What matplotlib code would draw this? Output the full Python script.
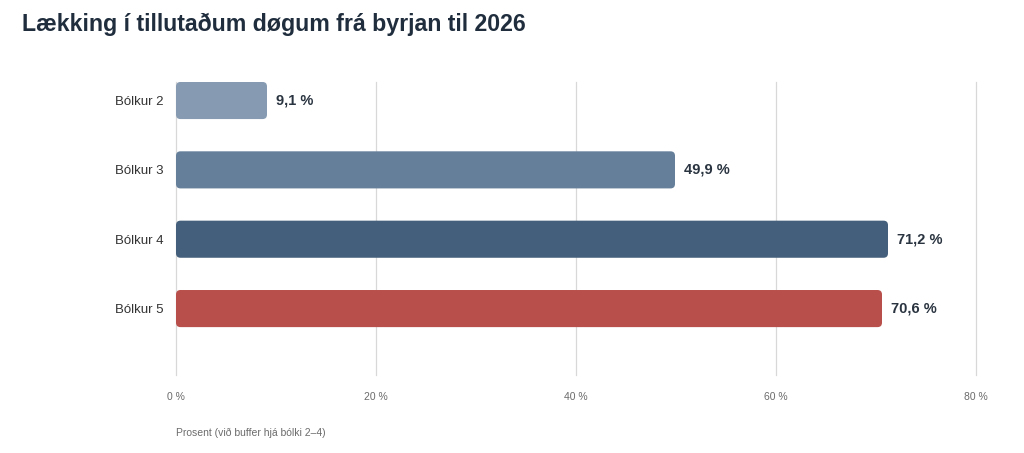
import matplotlib.pyplot as plt
from matplotlib.patches import FancyBboxPatch

plt.rcParams['font.family'] = ['Liberation Sans', 'DejaVu Sans']

groups = ["Bólkur 2", "Bólkur 3", "Bólkur 4", "Bólkur 5"]
values = [9.1, 49.9, 71.2, 70.6]
labels = ["9,1 %", "49,9 %", "71,2 %", "70,6 %"]
xticks = [0, 20, 40, 60, 80]
xticklabels = ["0 %", "20 %", "40 %", "60 %", "80 %"]
colors = ["#869bb1", "#657f9a", "#445f7b", "#b84f4a"]

fig = plt.figure(figsize=(10.24, 4.53), dpi=100)
ax = fig.add_axes([176 / 1024, 1 - 375 / 453, 800 / 1024, 293 / 453])

ypos = list(range(len(groups)))
bh = 0.535
bars = ax.barh(ypos, values, height=bh, color=colors)

# swap plain bars for rounded ones
x_px = 10.0     # px per % unit
y_px = 69.4     # px per category
for b in bars:
    x, y = b.get_x(), b.get_y()
    w, h = b.get_width(), b.get_height()
    r = 0.45
    p = FancyBboxPatch((x + r, y + r * x_px / y_px), w - 2 * r, h - 2 * r * x_px / y_px,
                       boxstyle=f"round,pad={r},rounding_size={r}",
                       mutation_aspect=x_px / y_px,
                       facecolor=b.get_facecolor(), edgecolor="none", zorder=3)
    ax.add_patch(p)
    b.set_visible(False)

for v, lab, y in zip(values, labels, ypos):
    ax.text(v + 0.9, y, lab, va="center", ha="left", fontsize=10.5,
            fontweight="bold", color="#2a3440")

ax.set_xlim(0, 80)
ax.set_ylim(3.958, -0.267)
ax.set_xticks(xticks)
ax.set_xticklabels(xticklabels, fontsize=7.5, color="#6b6b6b")
ax.set_yticks(ypos)
ax.set_yticklabels(groups, fontsize=9.5, color="#333333")
ax.tick_params(axis="both", length=0)
ax.tick_params(axis="x", pad=12)
ax.tick_params(axis="y", pad=9)
ax.grid(axis="x", color="#d8d8d8", linewidth=0.9)
for gl in ax.get_xgridlines():
    gl.set_clip_on(False)
ax.set_axisbelow(True)
for s in ax.spines.values():
    s.set_visible(False)

fig.text(176 / 1024, 1 - 433 / 453, "Prosent (við buffer hjá bólki 2–4)",
         fontsize=7.5, color="#6b6b6b", va="center", ha="left")
fig.text(22 / 1024, 1 - 24 / 453, "Lækking í tillutaðum døgum frá byrjan til 2026",
         fontsize=16.7, fontweight="bold", color="#1f2d3d", va="center", ha="left")

fig.savefig("out.png", dpi=100, facecolor="white")
